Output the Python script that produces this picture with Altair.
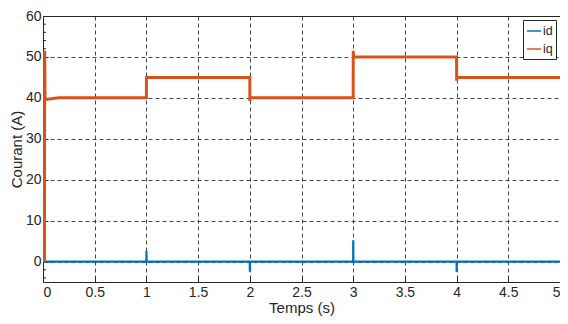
import altair as alt
import pandas as pd

# ---- data ----
t_id = [0.0, 0.002, 0.005, 1.0, 1.0005, 1.002, 2.0, 2.0005, 2.002,
        3.0, 3.0005, 3.002, 4.0, 4.0005, 4.002, 5.0]
id_vals = [0.0, 0.8, 0.0, 0.0, 2.6, 0.0, 0.0, -2.5, 0.0,
           0.0, 5.2, 0.0, 0.0, -2.5, 0.0, 0.0]

t_iq = [0.0, 0.014, 0.016, 0.02, 0.03, 0.15, 1.0, 1.0005, 1.004, 2.0, 2.0005, 2.004,
        3.0, 3.0005, 3.004, 4.0, 4.0005, 4.004, 5.0]
iq_vals = [0.0, 0.5, 51.5, 40.0, 39.6, 40.0, 40.0, 45.3, 45.0, 45.0, 39.2, 40.0,
           40.0, 51.5, 50.0, 50.0, 44.2, 45.0, 45.0]

x_ticks = [0, 0.5, 1, 1.5, 2, 2.5, 3, 3.5, 4, 4.5, 5]
y_ticks = [0, 10, 20, 30, 40, 50, 60]
y_minor = [-4, -2, 2, 4, 6, 8, 12, 14, 16, 18, 22, 24, 26, 28, 32, 34, 36, 38,
           42, 44, 46, 48, 52, 54, 56, 58]

series = ["id", "iq"]
colors = ["#0072BD", "#D95319"]

df_id = pd.DataFrame({"t": t_id, "v": id_vals, "s": "id"})
df_iq = pd.DataFrame({"t": t_iq, "v": iq_vals, "s": "iq"})
df_minor = pd.DataFrame({"v": y_minor})

FONT = "Liberation Sans"
TXT = "#262626"

xs = alt.Scale(domain=[0, 5], nice=False, zero=False)
ys = alt.Scale(domain=[-5, 60], nice=False, zero=False)

color = alt.Color(
    "s:N",
    scale=alt.Scale(domain=series, range=colors),
    legend=alt.Legend(
        title=None, orient="top-right", offset=4,
        symbolType="stroke", symbolSize=200, symbolStrokeWidth=1.5,
        labelFontSize=12.5, labelFont=FONT, labelColor=TXT,
        strokeColor=TXT, fillColor="white", padding=3,
        rowPadding=3, labelOffset=1, symbolOffset=0,
    ),
)

x_enc = alt.X(
    "t:Q", scale=xs,
    axis=alt.Axis(values=x_ticks, format="~g", title="Temps (s)",
                  offset=-5, tickSize=5, domain=False,
                  labelPadding=3, titlePadding=1),
)
y_enc = alt.Y(
    "v:Q", scale=ys,
    axis=alt.Axis(values=y_ticks, format="d", title="Courant (A)",
                  offset=-5, tickSize=5, domain=False,
                  labelPadding=2, titlePadding=1),
)

minor = alt.Chart(df_minor).mark_rule(color=TXT, strokeWidth=1).encode(
    y=alt.Y("v:Q", scale=ys), x=alt.value(0), x2=alt.value(3)
)
line_id = alt.Chart(df_id).mark_line(strokeWidth=2.2, clip=True).encode(
    x=x_enc, y=y_enc, color=color, order="t:Q"
)
line_iq = alt.Chart(df_iq).mark_line(strokeWidth=3, clip=True).encode(
    x=alt.X("t:Q", scale=xs), y=alt.Y("v:Q", scale=ys), color=color, order="t:Q"
)

chart = (
    alt.layer(line_id, minor, line_iq)
    .properties(
        width=517, height=266,
        autosize=alt.AutoSizeParams(type="none"),
        padding={"left": 35, "top": 8, "right": 0, "bottom": 34},
        background="white",
    )
    .configure_view(stroke=TXT, strokeWidth=1)
    .configure_axis(
        labelFont=FONT, titleFont=FONT, labelFontSize=14, titleFontSize=15,
        labelColor=TXT, titleColor=TXT, titleFontWeight="normal",
        tickColor=TXT, grid=True, gridColor="#262626", gridOpacity=0.85,
        gridDash=[4, 3], gridWidth=1,
    )
)

chart.save("out.html", embed_options={"renderer": "svg", "actions": False})
